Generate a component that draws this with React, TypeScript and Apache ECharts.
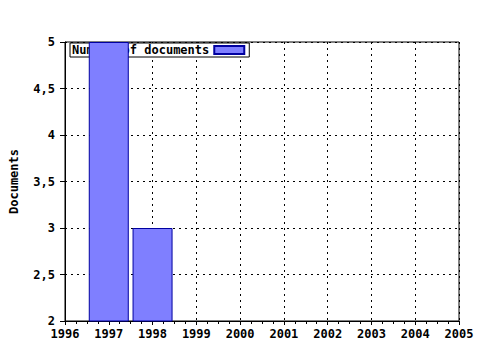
import React, { useEffect, useRef } from "react";
import * as echarts from "echarts";

const years = [1997, 1998];
const documents = [5, 3];
const seriesName = "Number of documents";
const yAxisName = "Documents";

export default function App() {
  const ref = useRef<HTMLDivElement>(null);
  useEffect(() => {
    document.body.style.margin = "0";
    const chart = echarts.init(ref.current!, null, { renderer: "svg" });
    const font = "DejaVu Sans Mono";
    chart.setOption({
      animation: false,
      backgroundColor: "#ffffff",
      textStyle: { fontFamily: font },
      grid: {
        left: 65, top: 42, right: 21, bottom: 29,
        containLabel: false,
        outerBoundsMode: "none",
        show: true, borderColor: "#000", borderWidth: 1, backgroundColor: "transparent",
      },
      legend: {
        z: 1,
        left: 70, top: 43,
        orient: "horizontal",
        align: "right",
        backgroundColor: "#fff",
        borderColor: "#000",
        borderWidth: 1,
        borderRadius: 0,
        padding: [1, 4, 1, 2],
        itemWidth: 30,
        itemHeight: 8,
        itemGap: 4,
        icon: "rect",
        selectedMode: false,
        textStyle: { fontFamily: font, fontWeight: "bold", fontSize: 12, color: "#000", padding: [0, 0, 0, 0] },
        data: [seriesName],
      },
      xAxis: {
        type: "value",
        min: 1996, max: 2005, interval: 1,
        axisLine: { show: true, lineStyle: { color: "#000" } },
        axisTick: { show: true, length: 4, lineStyle: { color: "#000" } },
        minorTick: { show: true, splitNumber: 4, length: 3, lineStyle: { color: "#000" } },
        axisLabel: {
          color: "#000", fontFamily: font, fontWeight: "bold", fontSize: 12, margin: 7,
          formatter: (v: number) => String(v),
        },
        splitLine: { show: true, lineStyle: { color: "#000", type: [2, 4], width: 1 } },
      },
      yAxis: {
        type: "value",
        min: 2, max: 5, interval: 0.5,
        name: yAxisName,
        nameLocation: "middle",
        nameGap: 45,
        nameRotate: 90,
        nameTextStyle: { color: "#000", fontFamily: font, fontWeight: "bold", fontSize: 12 },
        axisLine: { show: true, lineStyle: { color: "#000" } },
        axisTick: { show: true, length: 5, lineStyle: { color: "#000" } },
        axisLabel: {
          color: "#000", fontFamily: font, fontWeight: "bold", fontSize: 12, margin: 10,
          formatter: (v: number) => String(v).replace(".", ","),
        },
        splitLine: { show: true, lineStyle: { color: "#000", type: [2, 4], width: 1 } },
      },
      series: [
        {
          name: seriesName,
          type: "bar",
          z: 3,
          barWidth: 40,
          clip: true,
          itemStyle: { color: "#7f7fff", borderColor: "#0000a0", borderWidth: 1 },
          data: years.map((y, i) => [y, documents[i]]),
        },
      ],
    });
    return () => chart.dispose();
  }, []);
  return <div ref={ref} style={{ position: "fixed", left: 0, top: 0, width: 480, height: 350 }} />;
}
